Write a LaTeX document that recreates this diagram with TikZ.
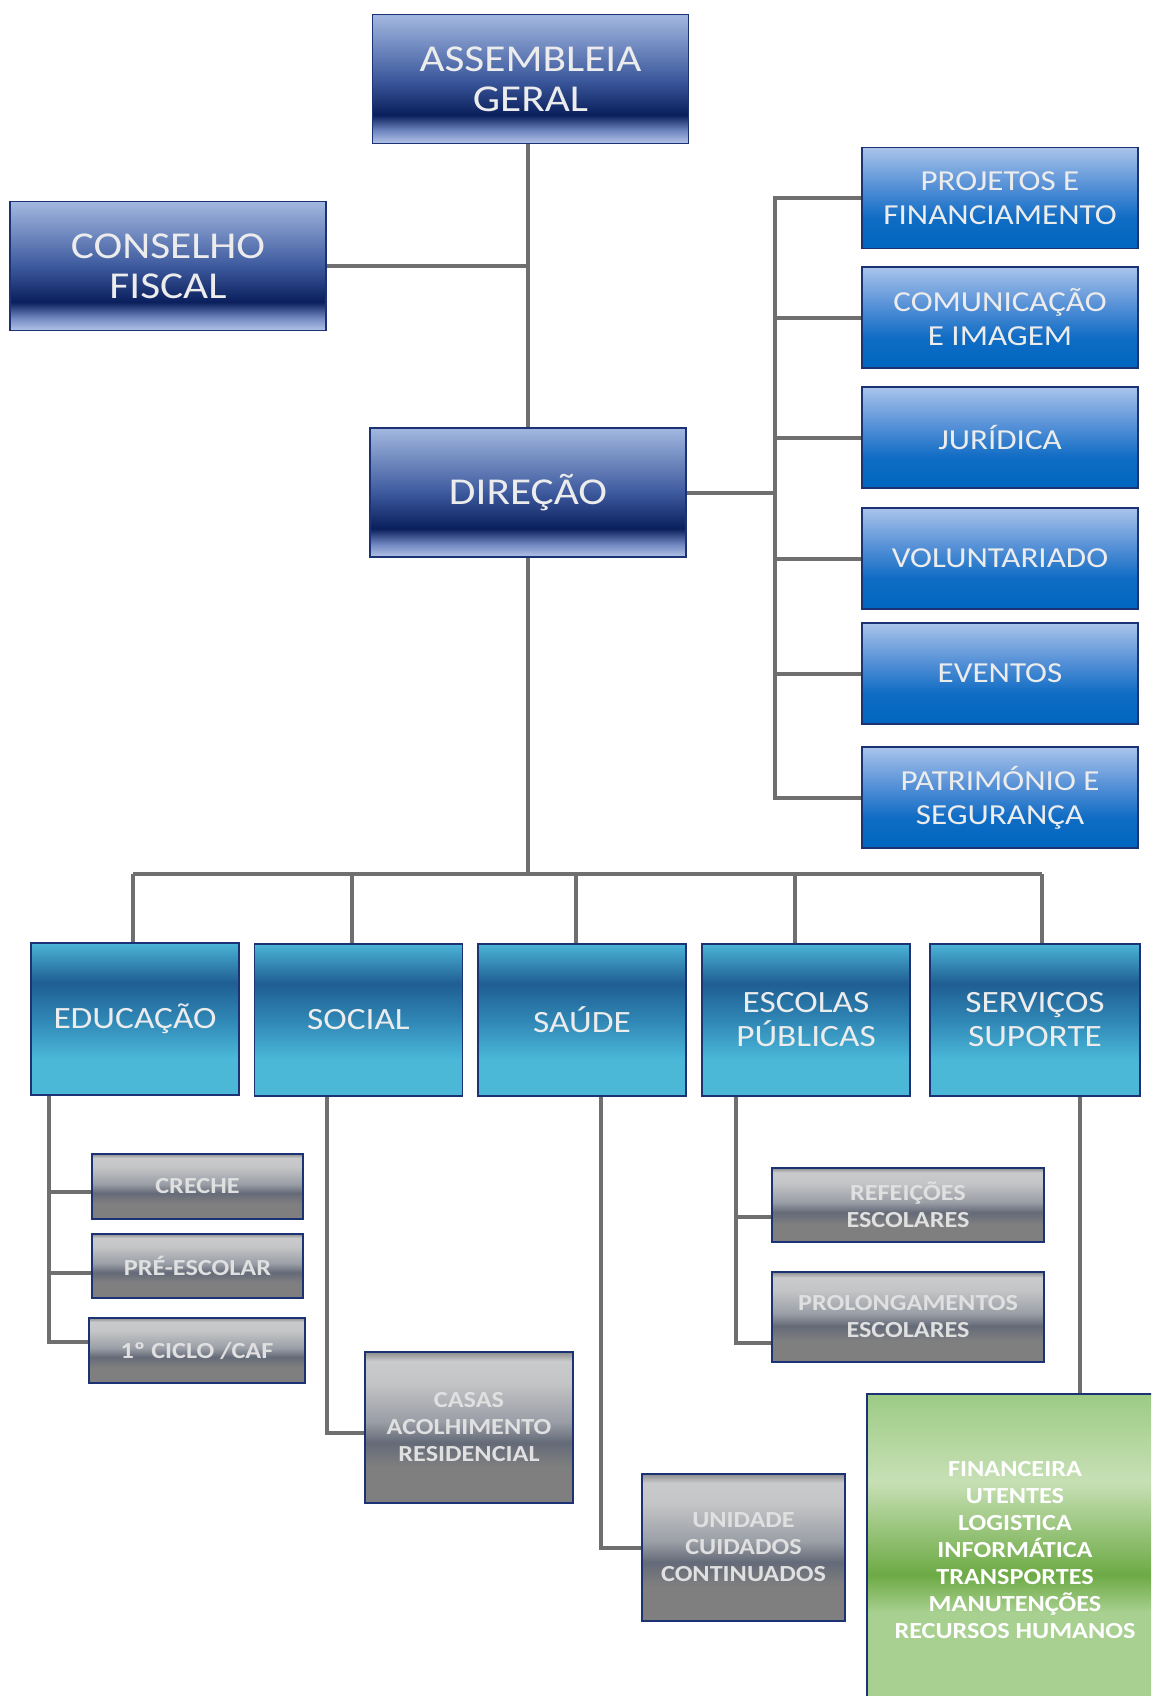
\documentclass[tikz,border=0pt]{standalone}
\usepackage{fontspec}
\setmainfont{Carlito}
\newfontfamily\wide[FakeStretch=1.14]{Carlito}
\definecolor{nv1}{HTML}{A3B8E0}
\definecolor{nv2}{HTML}{3D5A9E}
\definecolor{nv3}{HTML}{0A1F5C}
\definecolor{nv4}{HTML}{6F86C0}
\definecolor{nv5}{HTML}{B4C4E8}
\definecolor{bl1}{HTML}{A9C4EA}
\definecolor{bl2}{HTML}{5A93D8}
\definecolor{bl3}{HTML}{0F6CC4}
\definecolor{bl4}{HTML}{0066C0}
\definecolor{cy1}{HTML}{4BB4D6}
\definecolor{cy2}{HTML}{1F5E92}
\definecolor{cy3}{HTML}{2F86B5}
\definecolor{cy4}{HTML}{4BB8D8}
\definecolor{gr0}{HTML}{8C8C8C}
\definecolor{gr1}{HTML}{C9CACB}
\definecolor{gr2}{HTML}{C4C5C6}
\definecolor{gr3}{HTML}{9A9EA6}
\definecolor{gr4}{HTML}{646A78}
\definecolor{gr5}{HTML}{7F7F7F}
\definecolor{gn1}{HTML}{9CCB84}
\definecolor{gn2}{HTML}{C7E0B5}
\definecolor{gn3}{HTML}{6DAA45}
\definecolor{gn4}{HTML}{A8D090}
\definecolor{bord}{HTML}{1B3275}
\definecolor{lnc}{HTML}{6F6F6F}
\definecolor{txt}{HTML}{ECECEC}
\pgfdeclareverticalshading{navysh}{100bp}{color(0bp)=(nv5); color(25bp)=(nv5); color(30bp)=(nv4); color(36bp)=(nv3); color(50bp)=(nv2); color(75bp)=(nv1); color(100bp)=(nv1)}
\pgfdeclareverticalshading{bluesh}{100bp}{color(0bp)=(bl4); color(25bp)=(bl4); color(40bp)=(bl3); color(57bp)=(bl2); color(75bp)=(bl1); color(100bp)=(bl1)}
\pgfdeclareverticalshading{cyansh}{100bp}{color(0bp)=(cy4); color(25bp)=(cy4); color(37bp)=(cy4); color(50bp)=(cy3); color(62bp)=(cy2); color(75bp)=(cy1); color(100bp)=(cy1)}
\pgfdeclareverticalshading{graysh}{100bp}{color(0bp)=(gr5); color(25bp)=(gr5); color(37bp)=(gr5); color(45bp)=(gr4); color(52bp)=(gr3); color(65bp)=(gr2); color(72bp)=(gr1); color(75bp)=(gr0); color(100bp)=(gr0)}
\pgfdeclareverticalshading{greensh}{100bp}{color(0bp)=(gn4); color(25bp)=(gn4); color(40bp)=(gn4); color(46bp)=(gn3); color(61bp)=(gn2); color(75bp)=(gn1); color(100bp)=(gn1)}
\tikzset{
  box/.style={draw=bord, line width=1.5pt, inner sep=0pt, align=center, text=txt},
  bigbox/.style={box, shading=navysh, minimum width=316pt, minimum height=129pt, font=\wide\fontsize{38}{40}\selectfont},
  sidebox/.style={box, shading=bluesh, minimum width=276pt, minimum height=101pt, font=\wide\fontsize{29}{34}\selectfont},
  secbox/.style={box, shading=cyansh, minimum width=208pt, minimum height=152pt, font=\wide\fontsize{31}{34}\selectfont},
  graybox/.style={box, shading=graysh, text=txt!95!black, font=\wide\bfseries\fontsize{23}{27}\selectfont},
  greenbox/.style={box, shading=greensh, text=white, font=\wide\bfseries\fontsize{23}{27}\selectfont},
  conn/.style={draw=lnc, line width=4pt},
}
\begin{document}
\begin{tikzpicture}[x=1pt,y=-1pt]
\clip (0,0) rectangle (1151,1696);
\fill[white] (0,0) rectangle (1151,1696);
% top level
\node[bigbox] (ag) at (530.5,79) {ASSEMBLEIA\\GERAL};
\node[bigbox] (cf) at (168,266) {CONSELHO\\FISCAL};
\node[bigbox] (dir) at (528,492.5) {DIREÇÃO};
% side column
\node[sidebox] (proj) at (1000,198) {PROJETOS E\\FINANCIAMENTO};
\node[sidebox] (com) at (1000,317.5) {COMUNICAÇÃO\\E IMAGEM};
\node[sidebox] (jur) at (1000,437.5) {JURÍDICA};
\node[sidebox] (vol) at (1000,558.5) {VOLUNTARIADO};
\node[sidebox] (evt) at (1000,673.5) {EVENTOS};
\node[sidebox] (pat) at (1000,797.5) {PATRIMÓNIO E\\SEGURANÇA};
% second level
\node[secbox] (edu) at (135,1019) {EDUCAÇÃO};
\node[secbox] (soc) at (358.5,1020) {SOCIAL};
\node[secbox] (sau) at (582,1020) {SAÚDE};
\node[secbox] (esc) at (806,1020) {ESCOLAS\\PÚBLICAS};
\node[secbox, minimum width=210pt] (ser) at (1035,1020) {SERVIÇOS\\SUPORTE};
% third level
\node[graybox, minimum width=211pt, minimum height=65pt] (creche) at (197.5,1186.5) {CRECHE};
\node[graybox, minimum width=211pt, minimum height=64pt] (pre) at (197.5,1266) {PRÉ-ESCOLAR};
\node[graybox, minimum width=216pt, minimum height=65pt] (ciclo) at (197,1350.5) {1º CICLO /CAF};
\node[graybox, minimum width=208pt, minimum height=151pt] (casas) at (469,1427.5) {CASAS\\ACOLHIMENTO\\RESIDENCIAL};
\node[graybox, minimum width=203pt, minimum height=147pt] (uni) at (743.5,1547.5) {UNIDADE\\CUIDADOS\\CONTINUADOS};
\node[graybox, minimum width=272pt, minimum height=74pt] (ref) at (908,1205) {REFEIÇÕES\\ESCOLARES};
\node[graybox, minimum width=272pt, minimum height=90pt] (pro) at (908,1317) {PROLONGAMENTOS\\ESCOLARES};
\node[greenbox, minimum width=296pt, minimum height=312pt] (fin) at (1015,1550) {FINANCEIRA\\UTENTES\\LOGISTICA\\INFORMÁTICA\\TRANSPORTES\\MANUTENÇÕES\\RECURSOS HUMANOS};
% connectors top
\draw[conn] (dir.north) -- (dir.north |- ag.south);
\draw[conn] (cf.east) -- (cf.east -| dir.north);
% side bracket
\coordinate (brk) at (775,492.5);
\draw[conn] (dir.east) -- (dir.east -| brk);
\draw[conn] (proj.west) -- (proj.west -| brk) -- (pat.west -| brk) -- (pat.west);
\draw[conn] (com.west -| brk) -- (com.west);
\draw[conn] (jur.west -| brk) -- (jur.west);
\draw[conn] (vol.west -| brk) -- (vol.west);
\draw[conn] (evt.west -| brk) -- (evt.west);
% bus
\coordinate (busL) at (133,874);
\coordinate (busR) at (1042,874);
\draw[conn] (dir.south) -- (dir.south |- busL);
\draw[conn] (busL) -- (busR);
\draw[conn] (busL) -- (busL |- edu.north);
\draw[conn] ([xshift=-7pt]soc.north) -- ([xshift=-7pt]soc.north |- busL);
\draw[conn] ([xshift=-6.5pt]sau.north) -- ([xshift=-6.5pt]sau.north |- busL);
\draw[conn] ([xshift=-11pt]esc.north) -- ([xshift=-11pt]esc.north |- busL);
\draw[conn] (busR) -- (busR |- ser.north);
% education
\coordinate (eduX) at ([xshift=-86pt]edu.south);
\draw[conn] (eduX) |- ([yshift=8.5pt]ciclo.west);
\draw[conn] ([yshift=-5.5pt]eduX |- creche.west) -- ([yshift=-5.5pt]creche.west);
\draw[conn] ([yshift=-7pt]eduX |- pre.west) -- ([yshift=-7pt]pre.west);
% social
\coordinate (socX) at ([xshift=-31.5pt]soc.south);
\draw[conn] (socX) |- ([yshift=-5.5pt]casas.west);
% saude
\coordinate (sauX) at ([xshift=19pt]sau.south);
\draw[conn] (sauX) |- (uni.west);
% escolas
\coordinate (escX) at ([xshift=-70pt]esc.south);
\draw[conn] (escX) |- ([yshift=-26pt]pro.west);
\draw[conn] ([yshift=-12pt]escX |- ref.west) -- ([yshift=-12pt]ref.west);
% servicos
\coordinate (serX) at ([xshift=45pt]ser.south);
\draw[conn] (serX) -- (serX |- fin.north);
\end{tikzpicture}
\end{document}
